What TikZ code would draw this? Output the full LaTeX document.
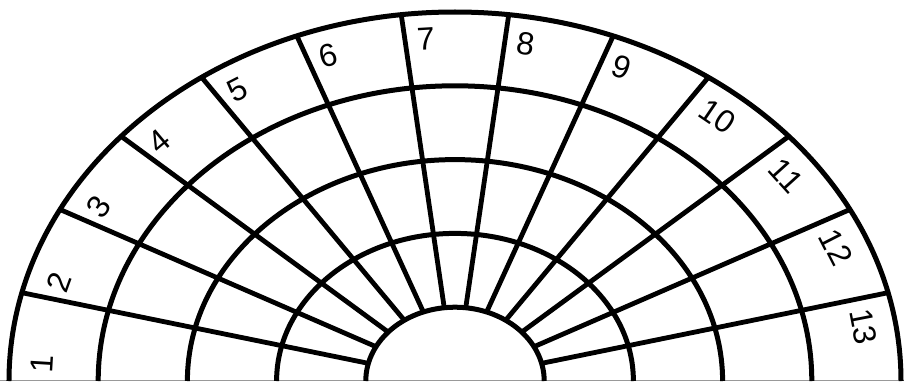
\documentclass[tikz,border=0pt]{standalone}
\usepackage{fontspec}
\setmainfont{Liberation Sans}
\begin{document}
\begin{tikzpicture}[x=1pt,y=1pt]
\useasboundingbox (-455,0) rectangle (449,381);
\fill[white] (-455,0) rectangle (449,381);
\def\ax{89.2}
\def\by{73.8}
\tikzset{
  ring/.style={line width=5pt},
  spoke/.style={line width=4.8pt},
  num/.style={font=\fontsize{32}{32}\selectfont, inner sep=0pt}
}
\draw[gray!80, line width=1.5pt] (-455,0.75) -- (449,0.75);
\foreach \k in {1,...,5}
  \draw[ring] ({\k*\ax},0) arc[start angle=0,end angle=180,x radius={\k*\ax},y radius={\k*\by}];
\foreach \i in {1,...,12} {
  \pgfmathsetmacro\t{\i*180/13}
  \draw[spoke] ({\ax*cos(\t)},{\by*sin(\t)}) -- ({5*\ax*cos(\t)},{5*\by*sin(\t)});
}
\foreach \n in {1,...,13} {
  \pgfmathsetmacro\off{\n<10 ? 2.9 : 4.7}
  \pgfmathsetmacro\t{(14-\n)*180/13-\off}
  \pgfmathsetmacro\r{atan2(\ax*sin(\t),\by*cos(\t))-90}
  \node[num, rotate=\r] (l\n) at ({4.64*\ax*cos(\t)},{4.64*\by*sin(\t)}) {\n};
}
\end{tikzpicture}
\end{document}
